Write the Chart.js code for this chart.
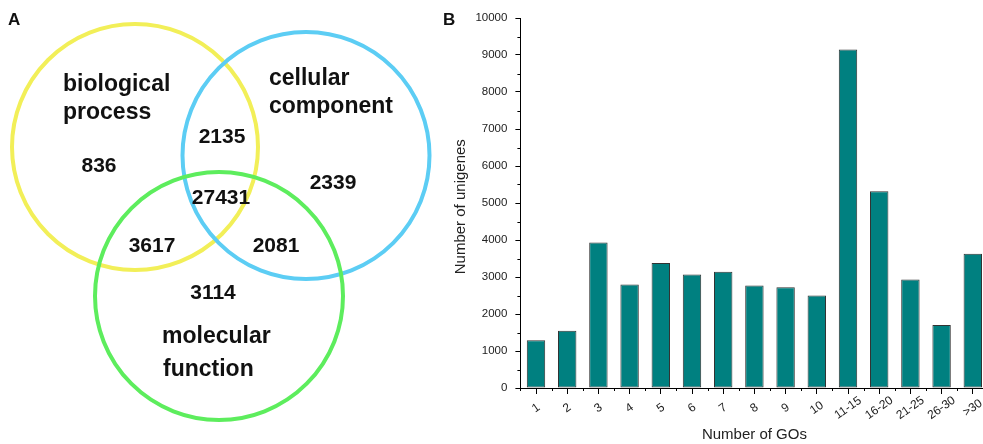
<!DOCTYPE html>
<html>
<head>
<meta charset="utf-8">
<script src="https://cdn.jsdelivr.net/npm/chart.js@4.4.1/dist/chart.umd.min.js"></script>
<style>
html, body { margin: 0; padding: 0; background: #fff; overflow: hidden; }
#wrap { position: relative; width: 983px; height: 444px; overflow: hidden; }
#venn { position: absolute; left: 0; top: 0; }
#bars { position: absolute; left: 440px; top: 0; }
</style>
</head>
<body>
<div id="wrap">
  <canvas id="venn" width="440" height="444"></canvas>
  <canvas id="bars" width="560" height="444"></canvas>
</div>
<script>
// A - unigenes per GO category and their overlaps
const setNames = ['biological process', 'cellular component', 'molecular function'];
const regionNames = ['BP', 'BP+CC', 'CC', 'BP+CC+MF', 'BP+MF', 'CC+MF', 'MF'];
const regionCounts = [836, 2135, 2339, 27431, 3617, 2081, 3114];

// B - number of GOs per unigene
const goCategories = ['1', '2', '3', '4', '5', '6', '7', '8', '9', '10', '11-15', '16-20', '21-25', '26-30', '>30'];
const unigeneCounts = [1290, 1545, 3930, 2800, 3380, 3070, 3140, 2770, 2720, 2500, 9150, 5320, 2930, 1700, 3630];
const yMax = 10000;
const yStep = 1000;

// layout of panel A, in canvas units (x right, y down)
const circleLayout = [
    { x: 135, y: 147, r: 123, color: '#f2ef58' },
    { x: 306, y: 155.5, r: 123.5, color: '#5ccdf4' },
    { x: 219, y: 296, r: 124, color: '#5ded5d' }
];
const nameLayout = [
    [[63, 91], [63, 119]],
    [[269, 85], [269, 113]],
    [[162, 343], [163, 376]]
];
const countLayout = [[99, 172], [222, 143], [333, 189], [221, 204], [152, 252], [276, 252], [213, 299]];

const FONT = '"Liberation Sans", Arial, Helvetica, sans-serif';
Chart.defaults.font.family = FONT;

const vennText = {
    id: 'vennText',
    afterDraw(chart) {
        const { ctx, scales: { x, y } } = chart;
        ctx.save();
        ctx.fillStyle = '#111';
        ctx.textBaseline = 'alphabetic';
        ctx.font = 'bold 17px ' + FONT;
        ctx.textAlign = 'left';
        ctx.fillText('A', 8, 25);

        ctx.font = 'bold 23px ' + FONT;
        setNames.forEach((name, i) => {
            name.split(' ').forEach((word, j) => {
                const p = nameLayout[i][j];
                ctx.fillText(word, x.getPixelForValue(p[0]), y.getPixelForValue(p[1]));
            });
        });

        ctx.font = 'bold 21px ' + FONT;
        ctx.textAlign = 'center';
        regionCounts.forEach((n, i) => {
            const p = countLayout[i];
            ctx.fillText(String(n), x.getPixelForValue(p[0]), y.getPixelForValue(p[1]));
        });
        ctx.restore();
    }
};

new Chart(document.getElementById('venn'), {
    type: 'bubble',
    data: {
        datasets: setNames.map((name, i) => ({
            label: name,
            data: [{ x: circleLayout[i].x, y: circleLayout[i].y, r: circleLayout[i].r }],
            backgroundColor: 'rgba(0,0,0,0)',
            borderColor: circleLayout[i].color,
            borderWidth: 4,
            hoverRadius: 0,
            clip: false,
            order: setNames.length - i
        }))
    },
    options: {
        responsive: false,
        animation: false,
        events: [],
        layout: { padding: 0, autoPadding: false },
        plugins: { legend: { display: false }, tooltip: { enabled: false } },
        scales: {
            x: { type: 'linear', min: 0, max: 440, display: false },
            y: { type: 'linear', min: 0, max: 444, reverse: true, display: false }
        }
    },
    plugins: [vennText]
});

const barExtras = {
    id: 'barExtras',
    afterDraw(chart) {
        const { ctx, chartArea, scales: { x, y } } = chart;
        ctx.save();
        // minor ticks
        ctx.strokeStyle = '#000';
        ctx.lineWidth = 1;
        ctx.beginPath();
        for (let v = yStep / 2; v < yMax; v += yStep) {
            const py = Math.round(y.getPixelForValue(v)) + 0.5;
            ctx.moveTo(chartArea.left - 3, py);
            ctx.lineTo(chartArea.left, py);
        }
        for (let i = 0; i <= goCategories.length; i++) {
            const px = Math.round(x.getPixelForValue(i - 0.5)) + 0.5;
            ctx.moveTo(px, chartArea.bottom);
            ctx.lineTo(px, chartArea.bottom + 3);
        }
        ctx.stroke();

        // category labels, rotated about their centre
        ctx.fillStyle = '#222';
        ctx.font = '12px ' + FONT;
        ctx.textAlign = 'center';
        ctx.textBaseline = 'middle';
        goCategories.forEach((lab, i) => {
            ctx.save();
            ctx.translate(x.getPixelForValue(i), chartArea.bottom + 20);
            ctx.rotate(-35 * Math.PI / 180);
            ctx.fillText(lab, 0, 0);
            ctx.restore();
        });

        // axis titles
        ctx.font = '15px ' + FONT;
        ctx.textBaseline = 'alphabetic';
        ctx.fillText('Number of GOs', (chartArea.left + chartArea.right) / 2, 439);
        ctx.save();
        ctx.translate(25, y.getPixelForValue(4900));
        ctx.rotate(-Math.PI / 2);
        ctx.fillText('Number of unigenes', 0, 0);
        ctx.restore();

        ctx.fillStyle = '#111';
        ctx.font = 'bold 17px ' + FONT;
        ctx.textAlign = 'left';
        ctx.fillText('B', 3, 25);
        ctx.restore();
    }
};

new Chart(document.getElementById('bars'), {
    type: 'bar',
    data: {
        labels: goCategories,
        datasets: [{
            label: 'Number of unigenes',
            data: unigeneCounts,
            backgroundColor: '#008080',
            borderColor: '#333',
            borderWidth: 1,
            borderSkipped: false,
            barPercentage: 0.59,
            categoryPercentage: 1
        }]
    },
    options: {
        responsive: false,
        animation: false,
        events: [],
        layout: { padding: { left: 0, right: 11.6, top: 18, bottom: 0 } },
        plugins: { legend: { display: false }, tooltip: { enabled: false } },
        scales: {
            x: {
                grid: { offset: false, drawOnChartArea: false, tickLength: 6, color: '#000', tickColor: '#000' },
                border: { color: '#000' },
                ticks: { display: false },
                afterFit: s => { s.height = 56; }
            },
            y: {
                min: 0,
                max: yMax,
                ticks: { stepSize: yStep, padding: 8, color: '#222', font: { size: 11.5 }, callback: v => String(v) },
                grid: { drawOnChartArea: false, tickLength: 5, color: '#000', tickColor: '#000' },
                border: { color: '#000' },
                afterFit: s => { s.width = 80.4; }
            }
        }
    },
    plugins: [barExtras]
});
</script>
</body>
</html>
